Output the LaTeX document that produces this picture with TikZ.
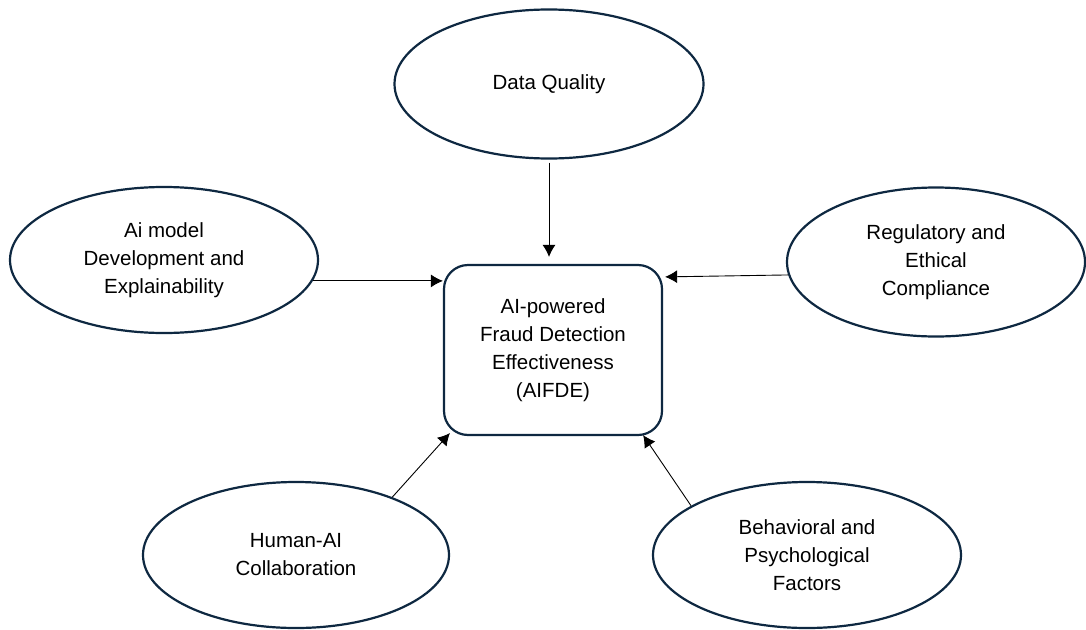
\documentclass[tikz,border=0pt]{standalone}
\usepackage{fontspec}
\setmainfont{Liberation Sans}
\usepackage{tikz}
\usetikzlibrary{shapes.geometric, arrows.meta}
\definecolor{framenavy}{HTML}{0E2841}

\begin{document}
\begin{tikzpicture}[x=1pt, y=-1pt,
		factor/.style={ellipse, draw=framenavy, line width=2.2pt, inner sep=0pt, align=center, font=\fontsize{20.5}{28}\selectfont},
		outcome/.style={rectangle, rounded corners=24pt, draw=framenavy, line width=2.2pt, minimum width=218pt, minimum height=170pt, align=center, font=\fontsize{20.5}{28}\selectfont},
		link/.style={line width=0.9pt, -{Latex[length=12pt,width=13pt]}}]
			\path[use as bounding box, fill=white] (0,0) rectangle (1086,629);
			
			\node[outcome] (aifde) at (553,350) {AI-powered\\Fraud Detection\\Effectiveness\\(AIFDE)};
			
			\node[factor, minimum width=309pt, minimum height=149pt] (quality) at (549,84) {Data Quality};
			\node[factor, minimum width=308pt, minimum height=146pt] (model) at (164,260) {Ai model\\Development and\\Explainability};
			\node[factor, minimum width=298pt, minimum height=149pt] (ethics) at (936,262) {Regulatory and\\Ethical\\Compliance};
			\node[factor, minimum width=306pt, minimum height=146pt] (human) at (296,555) {Human-AI\\Collaboration};
			\node[factor, minimum width=308pt, minimum height=146pt] (behave) at (807,555) {Behavioral and\\Psychological\\Factors};
			
			\draw[link, shorten <=3pt, shorten >=7pt] (quality.south) -- (quality.south |- aifde.north);
			\draw[link] (model.-8) -- (model.-8 -| aifde.west);
			\draw[link] (ethics.185) -- ([xshift=2pt,yshift=-13pt]aifde.north east);
			\draw[link] (human.31) -- ([xshift=7pt,yshift=3pt]aifde.south west);
			\draw[link] (behave.157) -- ([xshift=-20pt,yshift=1pt]aifde.south east);
		\end{tikzpicture}
\end{document}
